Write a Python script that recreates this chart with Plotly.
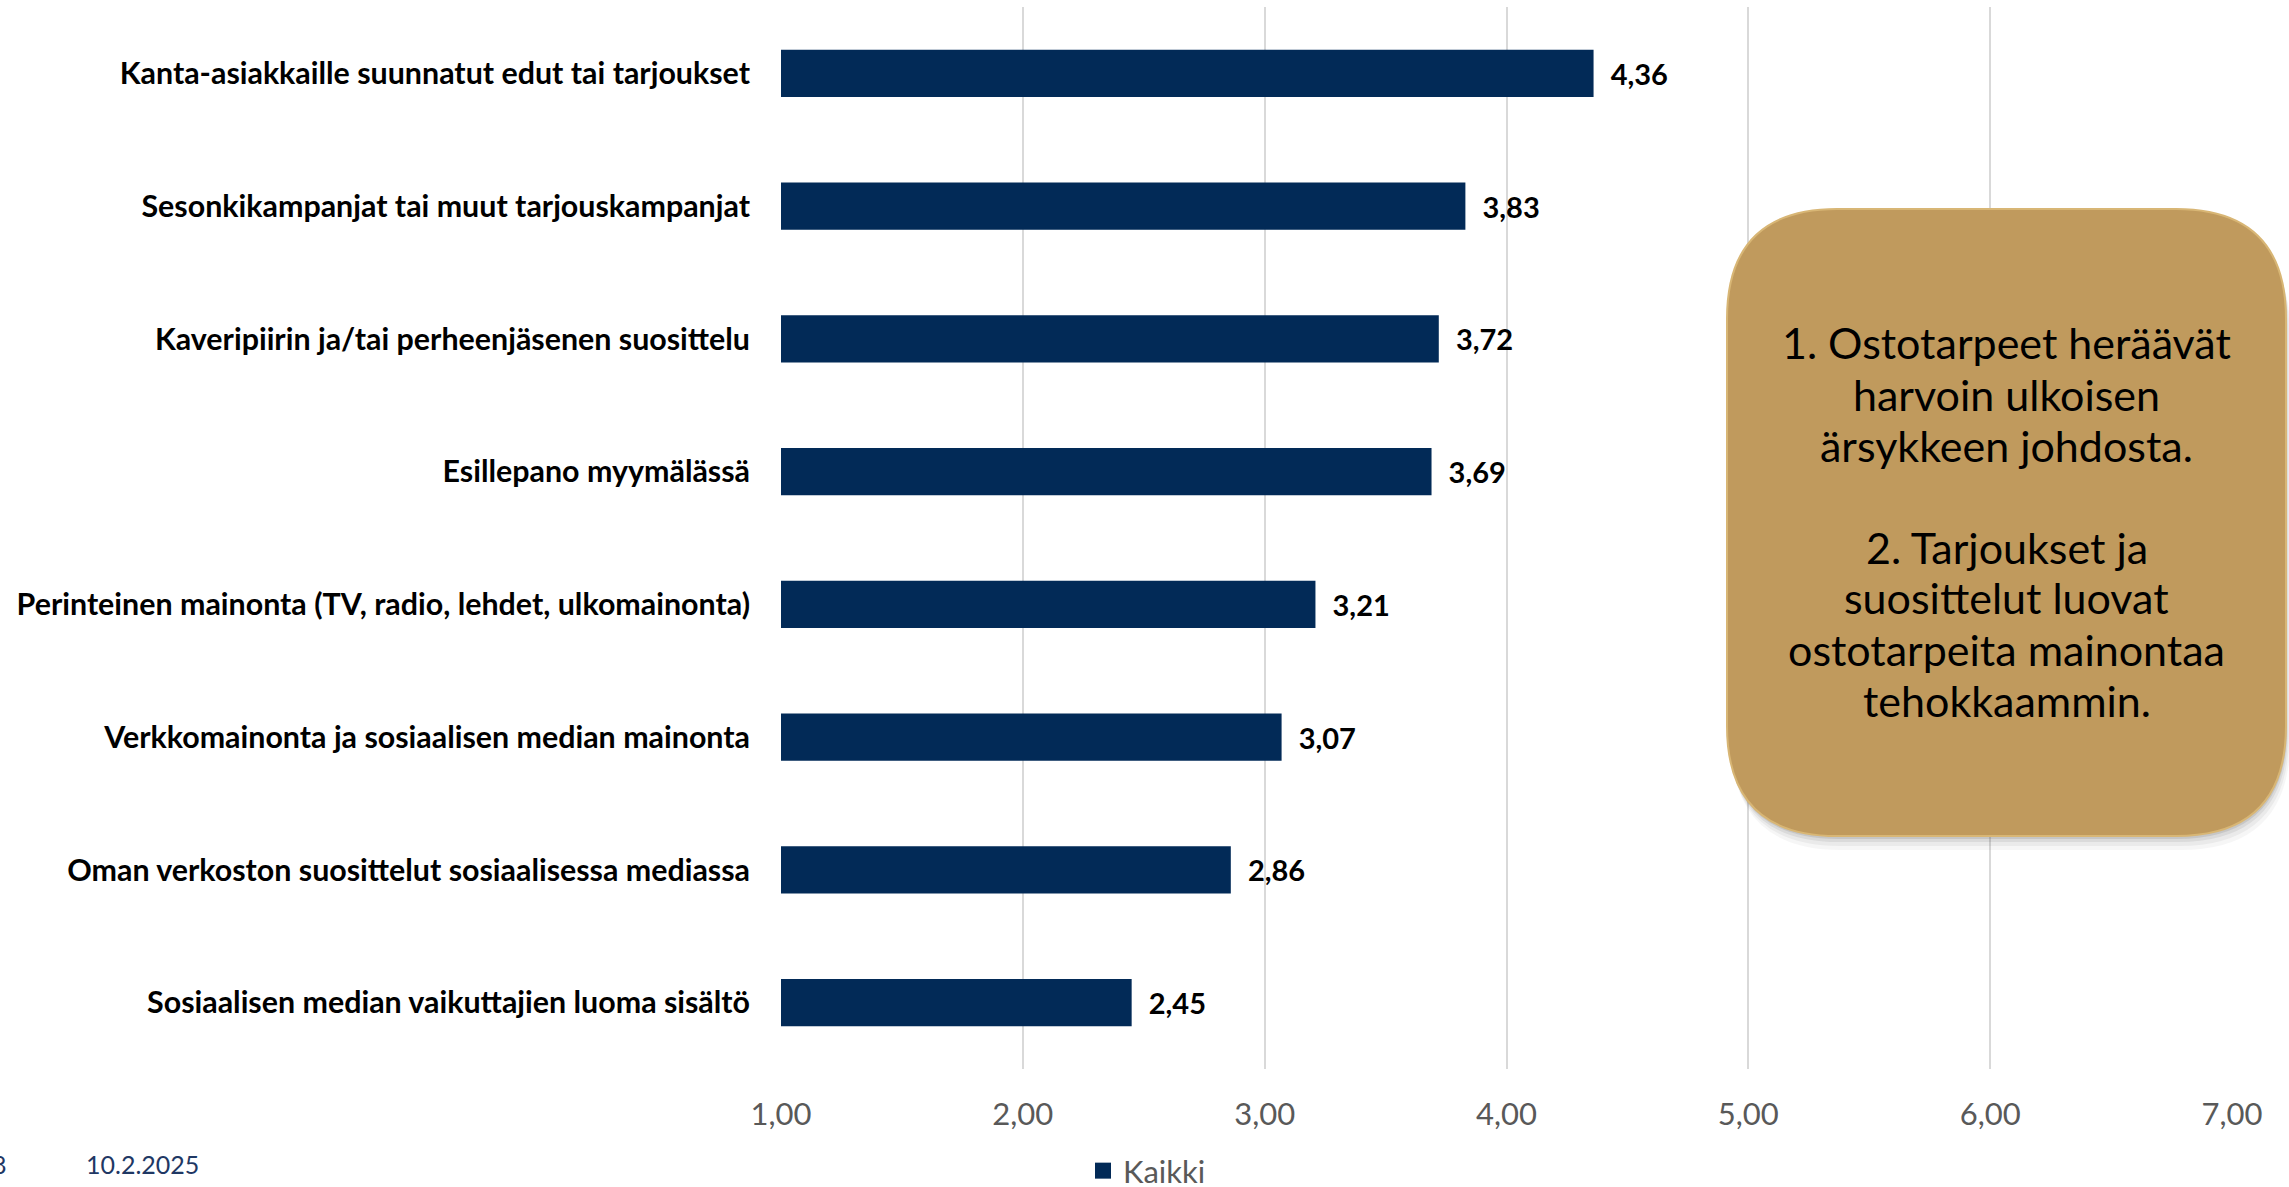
import plotly.graph_objects as go

# Survey results: mean score per purchase trigger (scale 1-7)
categories = [
    "Kanta-asiakkaille suunnatut edut tai tarjoukset",
    "Sesonkikampanjat tai muut tarjouskampanjat",
    "Kaveripiirin ja/tai perheenjäsenen suosittelu",
    "Esillepano myymälässä",
    "Perinteinen mainonta (TV, radio, lehdet, ulkomainonta)",
    "Verkkomainonta ja sosiaalisen median mainonta",
    "Oman verkoston suosittelut sosiaalisessa mediassa",
    "Sosiaalisen median vaikuttajien luoma sisältö",
]
values = [4.36, 3.83, 3.72, 3.69, 3.21, 3.07, 2.86, 2.45]
series_name = "Kaikki"
tick_values = [1, 2, 3, 4, 5, 6, 7]

callout_lines = [
    "1. Ostotarpeet heräävät",
    "harvoin ulkoisen",
    "ärsykkeen johdosta.",
    "",
    "2. Tarjoukset ja",
    "suosittelut luovat",
    "ostotarpeita mainontaa",
    "tehokkaammin.",
]
date_text = "10.2.2025"
page_text = "8"

W, H = 2289, 1187
ML, MR, MT, MB = 781, 57, 7, 118
PW, PH = W - ML - MR, H - MT - MB

NAVY = "#022A57"
FONT = "Lato"


def px_x(px):
    return (px - ML) / PW


def px_y(py):
    return (H - MB - py) / PH


def rounded_rect(x0, y0, x1, y1, r):
    # pixel box -> paper-space path with quadratic corners
    X = lambda v: px_x(v)
    Y = lambda v: px_y(v)
    return (
        f"M {X(x0 + r)},{Y(y0)} L {X(x1 - r)},{Y(y0)} "
        f"Q {X(x1)},{Y(y0)} {X(x1)},{Y(y0 + r)} "
        f"L {X(x1)},{Y(y1 - r)} Q {X(x1)},{Y(y1)} {X(x1 - r)},{Y(y1)} "
        f"L {X(x0 + r)},{Y(y1)} Q {X(x0)},{Y(y1)} {X(x0)},{Y(y1 - r)} "
        f"L {X(x0)},{Y(y0 + r)} Q {X(x0)},{Y(y0)} {X(x0 + r)},{Y(y0)} Z"
    )


fig = go.Figure()
fig.add_trace(
    go.Bar(
        y=categories,
        x=[v - 1 for v in values],
        base=1,
        orientation="h",
        name=series_name,
        marker=dict(color=NAVY, line=dict(width=0)),
        text=["\u00a0\u00a0" + f"{v:.2f}".replace(".", ",") for v in values],
        textposition="outside",
        textfont=dict(family=FONT, size=29, color="#000000", weight="bold"),
        cliponaxis=False,
        showlegend=False,
    )
)
# legend entry with a larger square swatch
fig.add_trace(
    go.Scatter(
        x=[None], y=[None], mode="markers", name=series_name,
        marker=dict(symbol="square", size=17, color=NAVY),
        showlegend=True,
    )
)

# callout box with soft drop shadow
bx0, by0, bx1, by1, rad = 1727, 209, 2286, 836, 110
shapes = []
for off, op in [(14, 0.05), (10, 0.07), (6, 0.1), (3, 0.14)]:
    shapes.append(dict(
        type="path", xref="paper", yref="paper",
        path=rounded_rect(bx0 + off * 0.3, by0 + off, bx1 + off * 0.3, by1 + off, rad),
        fillcolor=f"rgba(80,80,80,{op})", line=dict(width=0), layer="above",
    ))
shapes.append(dict(
    type="path", xref="paper", yref="paper",
    path=rounded_rect(bx0, by0, bx1, by1, rad),
    fillcolor="#C09A5D", line=dict(color="#D8B675", width=2), layer="above",
))

annotations = []
line_pitch = 51
first_y = 343
for i, line in enumerate(callout_lines):
    if not line:
        continue
    annotations.append(dict(
        xref="paper", yref="paper",
        x=px_x((bx0 + bx1) / 2), y=px_y(first_y + i * line_pitch),
        text=line, showarrow=False, align="center",
        xanchor="center", yanchor="middle",
        font=dict(family=FONT, size=43, color="#000000"),
    ))
annotations += [
    dict(
        xref="paper", yref="paper", x=px_x(84), y=px_y(1164),
        text=date_text, showarrow=False, xanchor="left", yanchor="middle",
        font=dict(family=FONT, size=25, color="#1F3864"),
    ),
    dict(
        xref="paper", yref="paper", x=px_x(9), y=px_y(1164),
        text=page_text, showarrow=False, xanchor="right", yanchor="middle",
        font=dict(family=FONT, size=25, color="#1F3864"),
    ),
]

fig.update_layout(
    width=W, height=H,
    margin=dict(l=ML, r=MR, t=MT, b=MB, pad=0, autoexpand=False),
    paper_bgcolor="white", plot_bgcolor="white",
    separators=", ",
    bargap=0.645,
    font=dict(family=FONT),
    shapes=shapes,
    annotations=annotations,
    legend=dict(
        orientation="h", xref="paper", yref="paper",
        x=px_x(1083), y=px_y(1171), xanchor="left", yanchor="middle",
        font=dict(family=FONT, size=31, color="#595959"),
        itemwidth=30,
    ),
    xaxis=dict(
        range=[1, 7], tickvals=tick_values, tickformat=".2f",
        showgrid=True, gridcolor="#D9D9D9", gridwidth=1.5,
        zeroline=False, showline=False, ticks="",
        tickfont=dict(family=FONT, size=31, color="#595959"),
        ticklabelstandoff=24, fixedrange=True,
    ),
    yaxis=dict(
        categoryorder="array", categoryarray=categories[::-1],
        showgrid=False, zeroline=False, showline=False, ticks="",
        tickfont=dict(family=FONT, size=30.4, color="#000000", weight="bold"),
        ticklabelstandoff=30, fixedrange=True,
    ),
)

fig.write_html("out.html")
